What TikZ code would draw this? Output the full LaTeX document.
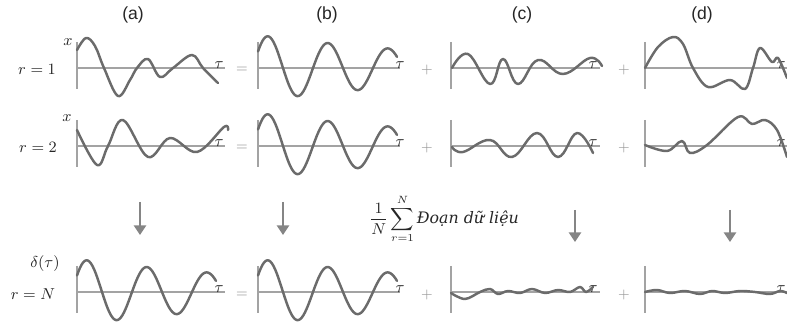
\documentclass[tikz,border=0pt]{standalone}
\usepackage{amsmath}
\usepackage{fontspec}
\newfontfamily\hdrfont{Liberation Sans}
\newfontfamily\vnfont{DejaVu Serif}
\usetikzlibrary{arrows.meta,positioning}

% decaying sine of column (b), #1 = left end, #2 = axis height
\newcommand\cleanwave[2]{%
  \draw[wave] plot[domain=0:139, samples=90] ({#1+\x},{#2-33*exp(-\x/250)*sin(6*(\x+5))});}

\begin{document}
\begin{tikzpicture}[x=0.02cm, y=-0.02cm,
    axisline/.style={draw=black!36, line width=0.75pt},
    wave/.style={draw=black!58, line width=1.4pt, line cap=round, line join=round},
    hdr/.style={font=\hdrfont\fontsize{10}{12}\selectfont, text=black!85},
    lbl/.style={font=\fontsize{9.5}{11}\selectfont, text=black!85, inner sep=0pt},
    op/.style={font=\fontsize{8.5}{10}\selectfont, text=black!40, inner sep=0pt},
    flow/.style={draw=black!48, line width=1.1pt, -{Triangle[width=7pt,length=5.5pt]}}]
  \useasboundingbox (0,0) rectangle (787,323);

  % column titles
  \node[hdr] (hdrA) at (133,15) {(a)};
  \node[hdr] (hdrB) at (327,15) {(b)};
  \node[hdr] (hdrC) at (522,15) {(c)};
  \node[hdr] (hdrD) at (702,15) {(d)};

  % row labels
  \node[lbl] (xOne) at (68,42) {$x$};
  \node[lbl] (rOne) at (37,69) {$r=1$};
  \node[lbl] (xTwo) at (67,118) {$x$};
  \node[lbl] (rTwo) at (38,147) {$r=2$};
  \node[lbl] (delta) at (45,264) {$\delta(\tau)$};
  \node[lbl] (rN) at (33,294) {$r=N$};

  % axes
  \foreach \xo/\xe in {77/225, 258/400, 451/600, 645/787}
    \foreach \ya in {68, 146, 292} {
      \draw[axisline] (\xo,\ya-26) -- (\xo,\ya+21);
      \draw[axisline] (\xo,\ya) -- (\xe,\ya);
    }

  % tau labels
  \foreach \xt/\col in {219/A, 400/B, 593/C, 781/D}
    \foreach \ya/\row in {68/1, 146/2, 292/3}
      \node[lbl] (tau\col\row) at (\xt,\ya-3) {$\tau$};

  % = and + signs
  \foreach \ya/\row in {70/1, 148/2, 295/3} {
    \node[op] (eq\row) at (242,\ya) {$=$};
    \node[op] (plusC\row) at (427,\ya) {$+$};
    \node[op] (plusD\row) at (624,\ya) {$+$};
  }

  % row r=1
  \draw[wave] plot[smooth, tension=0.6] coordinates {(77,50) (86,38) (95,46) (104,68)
    (118,96) (130,80) (137,68) (148,59) (160,77) (173,68) (192,55) (203,68) (218,83)};
  \cleanwave{258}{68}
  \draw[wave] plot[smooth, tension=0.7] coordinates {(452,68) (468,54) (490,84)
    (503,59) (518,84) (538,60) (563,74) (590,58) (602,66)};
  \draw[wave] plot[smooth, tension=0.6] coordinates {(645,68) (658,47) (673,37) (683,44)
    (693,68) (708,87) (730,80) (745,89) (753,68) (760,48) (772,62) (778,58) (787,78)};

  % row r=2
  \draw[wave] plot[smooth, tension=0.6] coordinates {(77,130) (97,165) (108,146) (123,120)
    (148,157) (170,138) (197,152) (224,127) (228,130)};
  \cleanwave{258}{146}
  \draw[wave] plot[smooth, tension=0.7] coordinates {(452,147) (463,152) (490,140)
    (512,157) (537,133) (558,157) (577,133) (593,153)};
  \draw[wave] plot[smooth, tension=0.6] coordinates {(645,145) (667,151) (682,141)
    (690,153) (707,145) (738,117) (752,124) (765,120) (777,130) (787,157)};

  % row r=N
  \cleanwave{77}{292}
  \cleanwave{258}{292}
  \draw[wave] plot[smooth, tension=0.6] coordinates {(451,293) (465,299) (480,292)
    (490,289) (498,294) (508,291) (520,293) (532,289) (545,293) (558,290) (570,292)
    (580,287) (586,292) (593,287)};
  \draw[wave] plot[smooth, tension=0.6] coordinates {(645,292) (657,290) (670,293)
    (685,291) (700,294) (712,291) (725,293) (740,291) (755,292) (770,294) (780,291) (787,293)};

  % averaging arrows
  \coordinate (arrAs) at (140,202);
  \coordinate (arrAe) at (140,235);
  \coordinate (arrBs) at (283,202);
  \coordinate (arrBe) at (283,235);
  \coordinate (arrCs) at (575,210);
  \coordinate (arrCe) at (575,242);
  \coordinate (arrDs) at (730,210);
  \coordinate (arrDe) at (730,242);
  \draw[flow] (arrAs) -- (arrAe);
  \draw[flow] (arrBs) -- (arrBe);
  \draw[flow] (arrCs) -- (arrCe);
  \draw[flow] (arrDs) -- (arrDe);

  \node[lbl, font=\fontsize{9}{11}\selectfont] (avg) at (444,219)
    {$\displaystyle\frac{1}{N}\sum_{r=1}^{N}$\,{\vnfont\itshape Đoạn dữ liệu}};
\end{tikzpicture}
\end{document}
